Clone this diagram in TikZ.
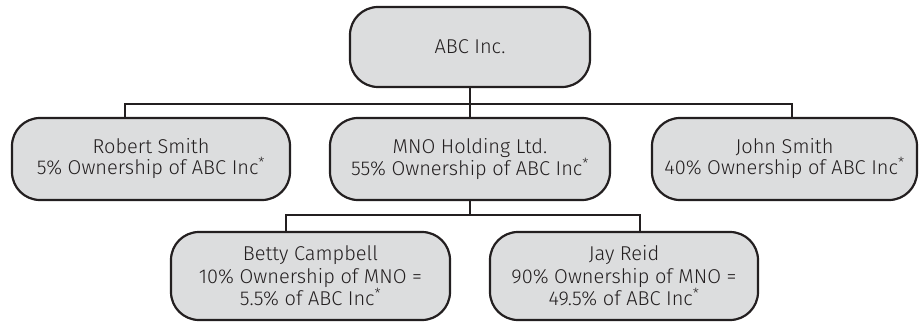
\documentclass[tikz,border=0pt]{standalone}
\usepackage{fontspec}
\setmainfont{Fira Sans Light}
\usepackage{tikz}
\definecolor{boxgray}{RGB}{220,221,222}
\definecolor{inkline}{RGB}{35,31,32}

\begin{document}
\begin{tikzpicture}[x=1pt,y=1pt,
      every node/.style={draw=inkline,line width=2.2pt,rounded corners=28pt,
        fill=boxgray,align=center,inner sep=0pt,text=inkline,
        font=\fontsize{20}{21}\selectfont},
      top/.style={minimum width=240pt,minimum height=80pt},
      owner/.style={minimum height=82pt},
      holder/.style={minimum height=88pt,font=\fontsize{20}{22.5}\selectfont},
      link/.style={draw=inkline,line width=1.8pt}]
    \useasboundingbox (0,0) rectangle (919,322);
    \node[top] (abc) at (470,275) {ABC Inc.};
    \node[owner,minimum width=278pt] (robert) at (151,163)
      {Robert Smith\\5\% Ownership of ABC Inc\textsuperscript{*}};
    \node[owner,minimum width=280pt] (mno) at (470,163)
      {MNO Holding Ltd.\\55\% Ownership of ABC Inc\textsuperscript{*}};
    \node[owner,minimum width=265pt] (john) at (784.5,163)
      {John Smith\\40\% Ownership of ABC Inc\textsuperscript{*}};
    \node[holder,minimum width=279pt] (betty) at (310.5,46)
      {Betty Campbell\\10\% Ownership of MNO =\\5.5\% of ABC Inc\textsuperscript{*}};
    \node[holder,minimum width=268pt] (jay) at (624,46)
      {Jay Reid\\90\% Ownership of MNO =\\49.5\% of ABC Inc\textsuperscript{*}};
    % drop points on the two bus lines
    \coordinate (rdrop) at (125,218);
    \coordinate (jdrop) at (792,218);
    \coordinate (bdrop) at (286,107);
    \coordinate (ydrop) at (640,107);
    \draw[link] (abc.south) -- (abc.south |- rdrop);
    \draw[link] (rdrop |- robert.north) -- (rdrop) -- (jdrop) -- (jdrop |- john.north);
    \draw[link] (rdrop -| mno.north) -- (mno.north);
    \draw[link] (mno.south) -- (mno.south |- bdrop);
    \draw[link] (bdrop |- betty.north) -- (bdrop) -- (ydrop) -- (ydrop |- jay.north);
  \end{tikzpicture}
\end{document}
